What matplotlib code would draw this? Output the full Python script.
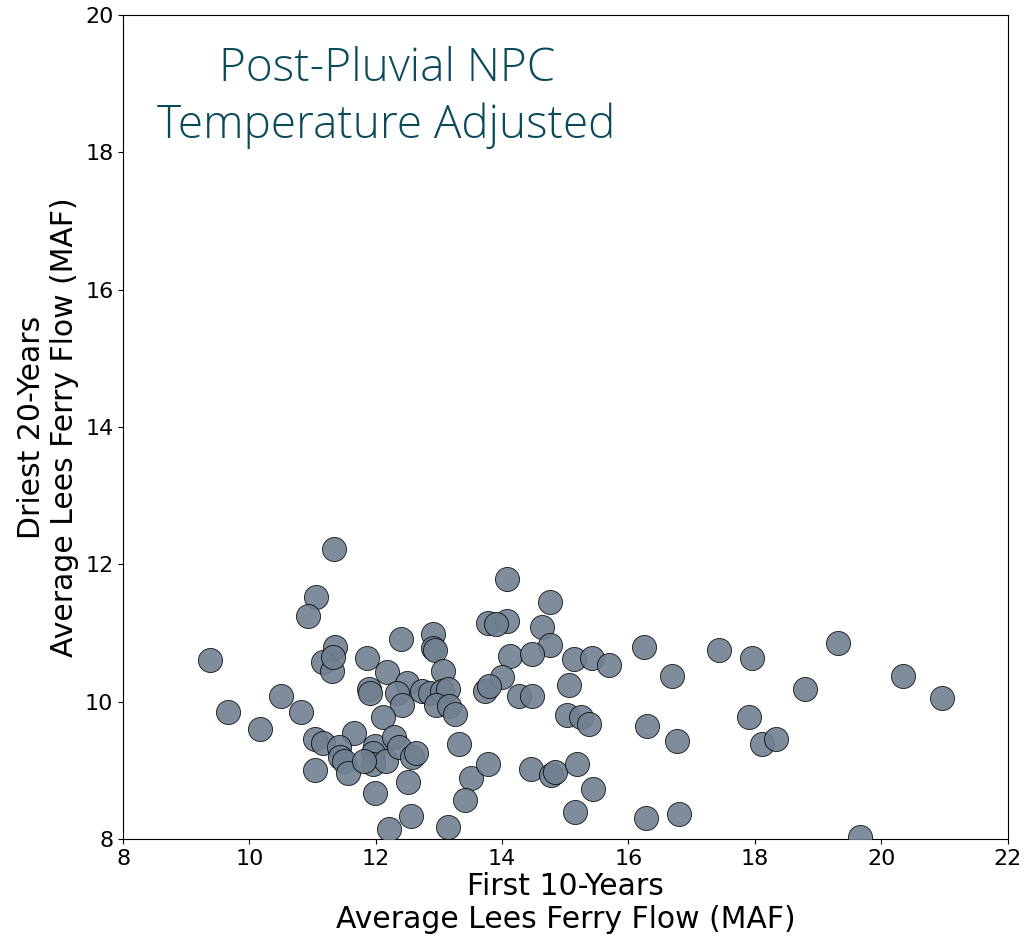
import numpy as np
import matplotlib
matplotlib.use("Agg")
import matplotlib.pyplot as plt

# first-decade mean flow vs. driest 20-year mean flow, per trace (MAF)
first10 = [
    9.38, 9.66, 10.16, 10.50, 10.82, 11.34, 11.05, 10.92, 11.35, 11.16,
    11.31, 11.32, 11.86, 12.17, 12.40, 12.90, 12.91, 12.94, 13.06, 11.89,
    11.91, 12.49, 12.33, 12.41, 12.73, 12.86, 13.04, 13.15, 12.96, 13.16,
    13.26, 13.73, 13.78, 12.11, 11.66, 11.04, 11.17, 11.41, 11.44, 11.49,
    11.56, 11.04, 11.99, 11.95, 11.95, 12.16, 11.81, 12.29, 12.37, 12.58,
    12.64, 12.51, 11.98, 12.56, 12.21, 13.14, 13.31, 13.50, 13.41, 13.77,
    14.08, 14.76, 14.08, 13.90, 14.63, 14.76, 14.13, 14.48, 15.13, 15.42,
    15.69, 16.24, 16.69, 14.00, 13.79, 14.26, 14.47, 15.06, 15.03, 15.25,
    15.38, 16.29, 16.77, 14.46, 14.78, 14.84, 15.19, 15.44, 15.16, 16.27,
    16.80, 17.44, 17.96, 18.79, 19.32, 20.35, 20.97, 17.90, 18.12, 18.34,
    19.67,
]
driest20 = [
    10.61, 9.85, 9.60, 10.09, 9.85, 12.22, 11.53, 11.25, 10.79, 10.58,
    10.45, 10.65, 10.64, 10.43, 10.92, 10.99, 10.78, 10.75, 10.44, 10.19,
    10.12, 10.27, 10.12, 9.95, 10.15, 10.13, 10.15, 10.18, 9.95, 9.94,
    9.82, 10.15, 11.14, 9.78, 9.55, 9.46, 9.40, 9.34, 9.19, 9.14,
    8.96, 9.00, 9.36, 9.25, 9.09, 9.13, 9.14, 9.49, 9.34, 9.20,
    9.25, 8.83, 8.67, 8.33, 8.14, 8.17, 9.38, 8.89, 8.57, 9.10,
    11.79, 11.45, 11.17, 11.13, 11.09, 10.83, 10.67, 10.70, 10.62, 10.63,
    10.53, 10.79, 10.37, 10.36, 10.23, 10.09, 10.09, 10.24, 9.81, 9.78,
    9.68, 9.65, 9.43, 9.02, 8.93, 8.97, 9.09, 8.73, 8.40, 8.30,
    8.37, 10.75, 10.64, 10.19, 10.86, 10.37, 10.06, 9.77, 9.39, 9.46,
    8.03,
]

fig = plt.figure(figsize=(10.26, 9.38), dpi=100)
ax = fig.add_axes([0.12, 0.1055, 0.862, 0.8785])

ax.scatter(first10, driest20, s=300, c="slategrey", edgecolors="black",
           linewidths=0.6, alpha=0.9, zorder=3)

ax.set_xlim(8, 22)
ax.set_ylim(8, 20)
ax.set_xticks(np.arange(8, 23, 2))
ax.set_yticks(np.arange(8, 21, 2))
ax.tick_params(labelsize=16)

ax.set_xlabel("First 10-Years\nAverage Lees Ferry Flow (MAF)", fontsize=21.5,
              labelpad=2)
ax.set_ylabel("Driest 20-Years\nAverage Lees Ferry Flow (MAF)", fontsize=21.5)

ax.text(0.298, 0.90, "Post-Pluvial NPC\nTemperature Adjusted",
        transform=ax.transAxes, ha="center", va="center", fontsize=33,
        color="#0b4a5a", family="Open Sans", weight="light", linespacing=1.3)

fig.savefig("out.png", dpi=100)
